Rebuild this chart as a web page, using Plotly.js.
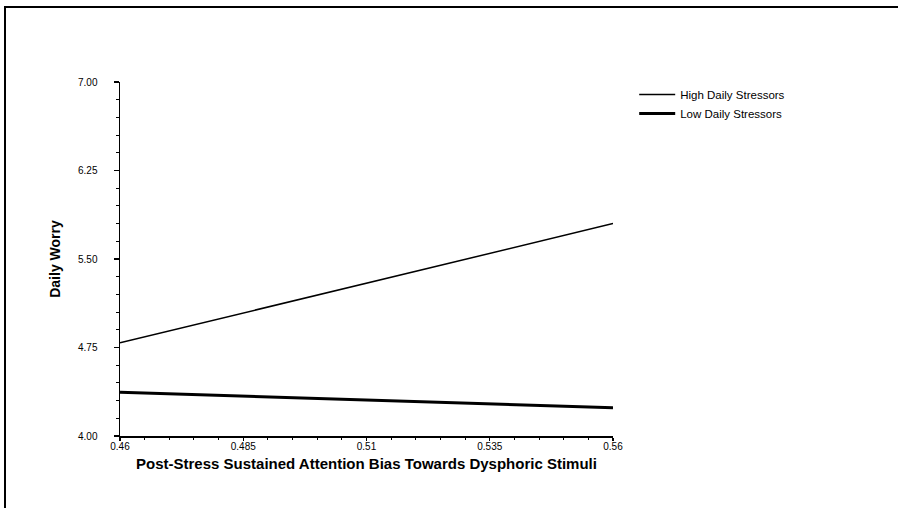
<!DOCTYPE html>
<html>
<head>
<meta charset="utf-8">
<script src="https://cdn.plot.ly/plotly-3.0.1.min.js"></script>
<style>
  html, body { margin: 0; padding: 0; background: #fff; width: 898px; height: 508px; overflow: hidden; }
  #frame { position: absolute; left: 4px; top: 6px; width: 900px; height: 510px; border-left: 2px solid #000; border-top: 2px solid #000; }
  #chart { position: absolute; left: 0; top: 0; width: 898px; height: 508px; }
</style>
</head>
<body>
<div id="frame"></div>
<div id="chart"></div>
<script>
// Data
const seriesNames = ["High Daily Stressors", "Low Daily Stressors"];
const attentionBias = [0.46, 0.56];
const highStressWorry = [4.79, 5.80];
const lowStressWorry = [4.37, 4.24];
const xTickVals = [0.46, 0.485, 0.51, 0.535, 0.56];
const xTickText = ["0.46", "0.485", "0.51", "0.535", "0.56"];
const yTickVals = [4.00, 4.75, 5.50, 6.25, 7.00];
const yTickText = ["4.00", "4.75", "5.50", "6.25", "7.00"];

const font = "Liberation Sans, Arial, sans-serif";

const traces = [
  { x: attentionBias, y: highStressWorry, name: seriesNames[0], mode: "lines",
    line: { color: "#000", width: 1.5 } },
  { x: attentionBias, y: lowStressWorry, name: seriesNames[1], mode: "lines",
    line: { color: "#000", width: 3 } }
];

const layout = {
  width: 898, height: 508,
  margin: { l: 120, r: 285, t: 82, b: 72 },
  paper_bgcolor: "rgba(0,0,0,0)", plot_bgcolor: "rgba(0,0,0,0)",
  font: { family: font, color: "#000", size: 10 },
  showlegend: true,
  legend: { x: 1.043, y: 1.006, xanchor: "left", yanchor: "top",
    itemwidth: 36,
    font: { family: font, size: 11.5, color: "#000" }, tracegroupgap: 0,
    bgcolor: "rgba(0,0,0,0)" },
  xaxis: {
    range: [0.46, 0.56], tickmode: "array", tickvals: xTickVals, ticktext: xTickText,
    showline: true, linecolor: "#000", linewidth: 1.5, showgrid: false, zeroline: false,
    ticks: "outside", ticklen: 3, tickwidth: 1.2, tickcolor: "#000",
    ticklabelstandoff: -3,
    tickfont: { family: font, size: 10, color: "#000" },
    minor: { dtick: 0.005, tick0: 0.46, ticks: "outside", ticklen: 2, tickcolor: "#000", tickwidth: 1, showgrid: false },
    title: { text: "<b>Post-Stress Sustained Attention Bias Towards Dysphoric Stimuli</b>",
      font: { family: font, size: 15, color: "#000" }, standoff: 8 }
  },
  yaxis: {
    range: [4.0, 7.0], tickmode: "array", tickvals: yTickVals, ticktext: yTickText,
    showline: true, linecolor: "#000", linewidth: 1.5, showgrid: false, zeroline: false,
    ticks: "outside", ticklen: 5, tickwidth: 1.2, tickcolor: "#000",
    ticklabelstandoff: 14,
    tickfont: { family: font, size: 10, color: "#000" },
    minor: { dtick: 0.15, tick0: 4.0, ticks: "outside", ticklen: 3, tickcolor: "#000", tickwidth: 1, showgrid: false },
    title: { text: "<b>Daily Worry</b>", font: { family: font, size: 14, color: "#000" }, standoff: 14 }
  }
};

Plotly.newPlot("chart", traces, layout, { displayModeBar: false, staticPlot: true });
</script>
</body>
</html>
